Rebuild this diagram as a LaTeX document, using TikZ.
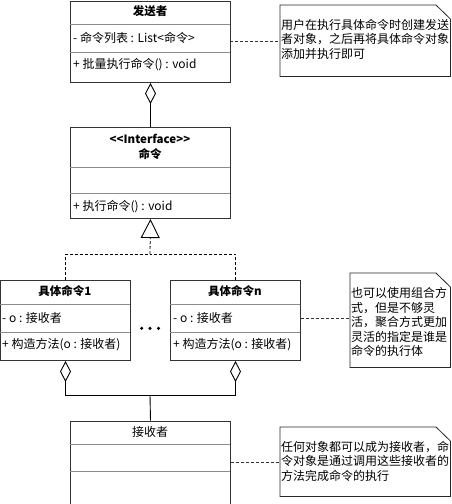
\documentclass[tikz,border=0pt]{standalone}
\usepackage{fontspec}
\setmainfont{Noto Sans CJK SC}
\usetikzlibrary{arrows.meta,calc}
\tikzset{
  umlbox/.style={draw=black!80, line width=1pt, fill=white, inner sep=0pt, anchor=north west},
  sepline/.style={draw=black!45, line width=0.6pt},
  txt/.style={inner sep=0pt, anchor=west, font=\fontsize{12}{13}\selectfont},
  ttl/.style={inner sep=0pt, font=\fontsize{12}{13}\selectfont},
  ttlb/.style={inner sep=0pt, font=\fontsize{11.5}{13}\selectfont\bfseries},
  notetxt/.style={inner sep=0pt, anchor=north west, align=left, font=\fontsize{12}{14.5}\selectfont},
  notebox/.style={inner sep=0pt, anchor=north west},
  noteline/.style={draw=black!85, line width=0.8pt},
  link/.style={draw=black!80, line width=0.8pt, dashed, dash pattern=on 3pt off 2pt},
  solidline/.style={draw=black, line width=0.9pt},
  agg/.style={solidline, -{Diamond[open, length=21pt, width=11pt, line width=0.9pt]}},
  real/.style={draw=black, line width=0.8pt, dash pattern=on 3pt off 2pt},
  gen/.style={real, -{Triangle[open, length=19pt, width=19pt, line width=0.9pt]}},
}
\begin{document}
\begin{tikzpicture}[x=1pt, y=-1pt]
\useasboundingbox (0,0) rectangle (451,504);

% ---------- sender ----------
\node[umlbox, minimum width=160pt, minimum height=81pt] (snd) at (70,1) {};
\draw[sepline] (70,24) -- (230,24);
\draw[sepline] (70,52) -- (230,52);
\node[ttlb] (sndt) at (150,11) {发送者};
\node[txt] (snda) at (73,38) {- 命令列表 : List{<}命令{>}};
\node[txt] (sndm) at (73,65) {+ 批量执行命令() : void};

% ---------- interface ----------
\node[umlbox, minimum width=160pt, minimum height=91pt] (intf) at (70,127) {};
\draw[sepline] (70,167) -- (230,167);
\draw[sepline] (70,193) -- (230,193);
\node[ttlb] (intfs) at (150,139) {{<}{<}Interface{>}{>}};
\node[ttlb] (intft) at (150,154) {命令};
\node[txt] (intfm) at (73,207) {+ 执行命令() : void};

% ---------- concrete 1 ----------
\node[umlbox, minimum width=130pt, minimum height=80pt] (c1) at (0,280) {};
\draw[sepline] (0,304) -- (130,304);
\draw[sepline] (0,332) -- (130,332);
\node[ttlb] (c1t) at (65,291) {具体命令1};
\node[txt] (c1a) at (2,318) {- o : 接收者};
\node[txt] (c1m) at (2,345) {+ 构造方法(o : 接收者)};

% ---------- concrete n ----------
\node[umlbox, minimum width=130pt, minimum height=80pt] (cn) at (170,280) {};
\draw[sepline] (170,304) -- (300,304);
\draw[sepline] (170,332) -- (300,332);
\node[ttlb] (cnt) at (235,291) {具体命令n};
\node[txt] (cna) at (173,318) {- o : 接收者};
\node[txt] (cnm) at (173,345) {+ 构造方法(o : 接收者)};

% dots
\fill (141.7,328.3) circle (1.7pt);
\fill (150,328.3) circle (1.7pt);
\fill (158.5,328.3) circle (1.7pt);

% ---------- receiver ----------
\node[umlbox, minimum width=160pt, minimum height=83pt] (rcv) at (70,420.5) {};
\draw[sepline] (70,444) -- (230,444);
\draw[sepline] (70,471) -- (230,471);
\node[ttl] (rcvt) at (150,432) {接收者};

% ---------- notes ----------
\node[notebox, minimum width=170pt, minimum height=71pt] (n1) at (280,5) {};
\draw[noteline] (n1.north west) -- ++(156,0) -- ($(n1.north east)+(0,14)$) -- (n1.south east) -- (n1.south west) -- cycle;
\node[notetxt] (n1t) at (281,19) {用户在执行具体命令时创建发送\\者对象，之后再将具体命令对象\\添加并执行即可};

\node[notebox, minimum width=100pt, minimum height=94pt] (n2) at (350,273) {};
\draw[noteline] (n2.north west) -- ++(86,0) -- ($(n2.north east)+(0,14)$) -- (n2.south east) -- (n2.south west) -- cycle;
\node[notetxt] (n2t) at (351,287.5) {也可以使用组合方\\式，但是不够灵\\活，聚合方式更加\\灵活的指定是谁是\\命令的执行体};

\node[notebox, minimum width=170pt, minimum height=69pt] (n3) at (280,427) {};
\draw[noteline] (n3.north west) -- ++(156,0) -- ($(n3.north east)+(0,14)$) -- (n3.south east) -- (n3.south west) -- cycle;
\node[notetxt] (n3t) at (281,441) {任何对象都可以成为接收者，命\\令对象是通过调用这些接收者的\\方法完成命令的执行};

% ---------- connectors ----------
\draw[agg] (intf.north) -- (snd.south);

\coordinate (gj) at (150,254);
\draw[real] (c1.north) |- (gj);
\draw[real] (cn.north) |- (gj);
\draw[gen] (gj) -- (intf.south);

\coordinate (aj) at (150,395);
\draw[solidline] (rcv.north) -- (aj);
\draw[agg] (aj) -| (c1.south);
\draw[agg] (aj) -| (cn.south);

\draw[link] (230,41) -- (n1.west |- 0,41);
\draw[link] (cn.east |- 0,318) -- (n2.west |- 0,318);
\draw[link] (rcv.east |- 0,462) -- (n3.west |- 0,462);
\end{tikzpicture}
\end{document}
